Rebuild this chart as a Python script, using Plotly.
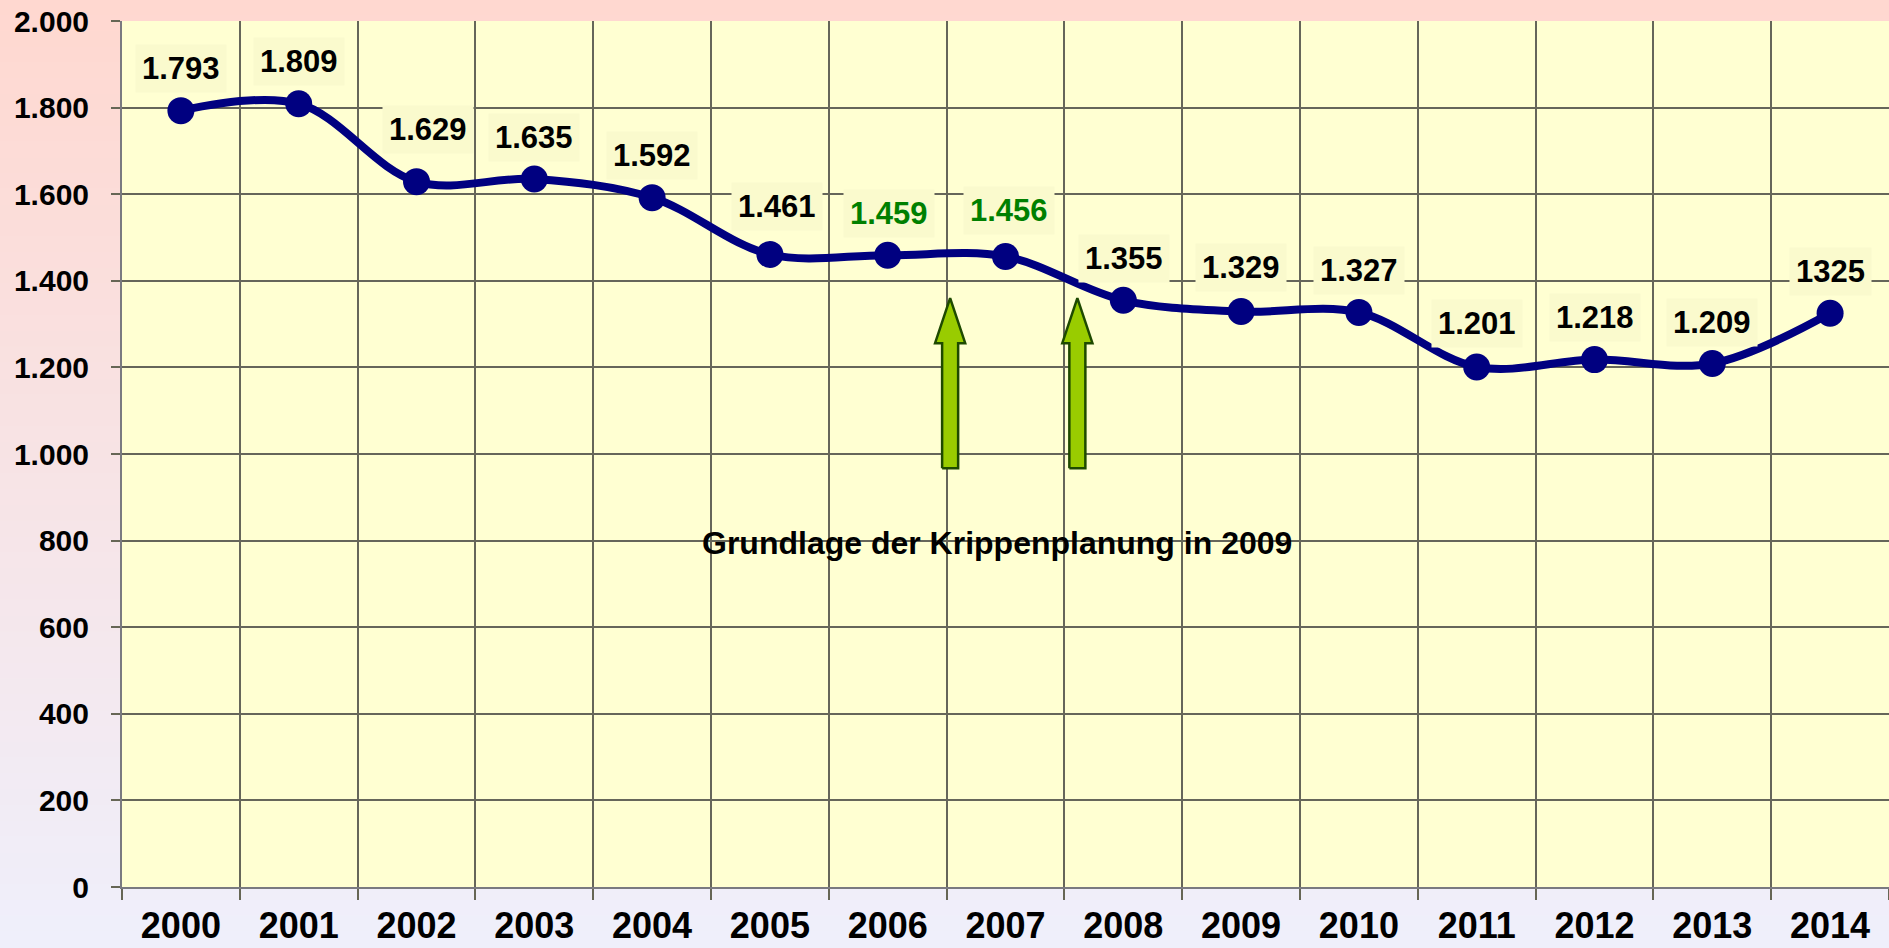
import plotly.graph_objects as go

# ---------------- data ----------------
years = ["2000", "2001", "2002", "2003", "2004", "2005", "2006", "2007",
         "2008", "2009", "2010", "2011", "2012", "2013", "2014"]
births = [1793, 1809, 1629, 1635, 1592, 1461, 1459, 1456,
          1355, 1329, 1327, 1201, 1218, 1209, 1325]
value_labels = ["1.793", "1.809", "1.629", "1.635", "1.592", "1.461", "1.459", "1.456",
                "1.355", "1.329", "1.327", "1.201", "1.218", "1.209", "1325"]
highlighted = ["2006", "2007"]
y_ticks = [0, 200, 400, 600, 800, 1000, 1200, 1400, 1600, 1800, 2000]
note_text = "Grundlage der Krippenplanung in 2009"

# arrow marks (category index position, base value, head base value, tip value)
arrow_positions = [6.53, 7.61]
arrow_base, arrow_head, arrow_tip = 967, 1256, 1360
note_pos = (6.93, 794)

# ---------------- style ----------------
FONT = "Liberation Sans, Arial, sans-serif"
NAVY = "#000080"
GREEN_TXT = "#008000"
W, H = 1889, 948
ML, MT, MB, MR = 122, 21, 61, 0

label_yshift = [42, 42, 52, 42, 42, 48, 42, 46, 42, 44, 42, 43, 42, 41, 42]
label_xshift = [0, 0, 11, 0, 0, 7, 1, 3, 1, 0, 0, 0, 0, 0, 0]

fig = go.Figure()

# background gradient (paper)
top = (255, 216, 208)
bot = (239, 239, 251)
n = 60
plot_w = W - ML - MR
plot_h = H - MT - MB
y_lo = -MB / plot_h
y_hi = 1 + MT / plot_h
x_lo = -ML / plot_w
for i in range(n):
    t = i / (n - 1)
    c = tuple(round(top[k] + (bot[k] - top[k]) * t) for k in range(3))
    y1 = y_hi - (y_hi - y_lo) * i / n
    y0 = y_hi - (y_hi - y_lo) * (i + 1) / n
    fig.add_shape(type="rect", xref="paper", yref="paper", x0=x_lo, x1=1.01,
                  y0=y0 - 0.001, y1=y1 + 0.001, line_width=0,
                  fillcolor="rgb(%d,%d,%d)" % c, layer="below")
# plot area background
fig.add_shape(type="rect", xref="paper", yref="paper", x0=0, x1=1.01, y0=0, y1=1,
              line_width=0, fillcolor="#FFFFD2", layer="below")

# line
fig.add_trace(go.Scatter(
    x=years, y=births, mode="lines+markers",
    line=dict(color=NAVY, width=8, shape="spline", smoothing=1.0),
    marker=dict(color=NAVY, size=27),
    hoverinfo="x+y", showlegend=False,
))

# arrows (on overlay numeric axis)
for xc in arrow_positions:
    sw, hw = 0.068, 0.128
    xs = [xc - sw, xc - sw, xc - hw, xc, xc + hw, xc + sw, xc + sw, xc - sw]
    ys = [arrow_base, arrow_head, arrow_head, arrow_tip, arrow_head, arrow_head, arrow_base, arrow_base]
    fig.add_trace(go.Scatter(
        x=xs, y=ys, xaxis="x2", mode="lines", fill="toself",
        fillcolor="#99CC00", line=dict(color="#1E4A00", width=2.5),
        hoverinfo="skip", showlegend=False,
    ))

# value labels
for i, (yr, v, txt) in enumerate(zip(years, births, value_labels)):
    fig.add_annotation(
        x=i, y=v, xref="x2", yref="y", text=txt, showarrow=False,
        yshift=label_yshift[i], xshift=label_xshift[i],
        bgcolor="#FAFACD", borderpad=6,
        font=dict(family=FONT, size=31, weight="bold",
                  color=GREEN_TXT if yr in highlighted else "black"),
    )

fig.add_annotation(
    x=note_pos[0], y=note_pos[1], xref="x2", yref="y", text=note_text, showarrow=False,
    font=dict(family=FONT, size=32, weight="bold", color="black"),
)

fig.update_layout(
    width=W, height=H,
    margin=dict(l=ML, r=MR, t=MT, b=MB, pad=0),
    paper_bgcolor="rgb(246,228,236)",
    plot_bgcolor="rgba(0,0,0,0)",
    separators=",.",
    font=dict(family=FONT, color="black"),
    xaxis=dict(
        type="category", range=[-0.5, 14.5], automargin=False,
        tickson="boundaries", ticks="outside", ticklen=11, tickwidth=1.5,
        tickcolor="#666655",
        showgrid=True, gridcolor="#66665a", gridwidth=1.5,
        showline=True, linecolor="#7a7a80", linewidth=2, mirror=False,
        tickfont=dict(family=FONT, size=36, weight="bold", color="black"),
        ticklabelstandoff=6,
        fixedrange=True,
    ),
    xaxis2=dict(overlaying="x", range=[-0.5, 14.5], visible=False, fixedrange=True),
    yaxis=dict(
        range=[0, 2000], tickvals=y_ticks, tickformat=",d", automargin=False,
        ticks="outside", ticklen=9, tickcolor="#666655", tickwidth=1.5,
        showgrid=True, gridcolor="#66665a", gridwidth=1.5,
        showline=True, linecolor="#7a7a80", linewidth=2,
        zeroline=False,
        tickfont=dict(family=FONT, size=30, weight="bold", color="black"),
        ticklabelstandoff=16,
        fixedrange=True,
    ),
)

fig.write_html(
    "out.html",
    config={"displayModeBar": False},
    post_script="document.body.style.margin='0';document.body.style.overflow='hidden';",
)
